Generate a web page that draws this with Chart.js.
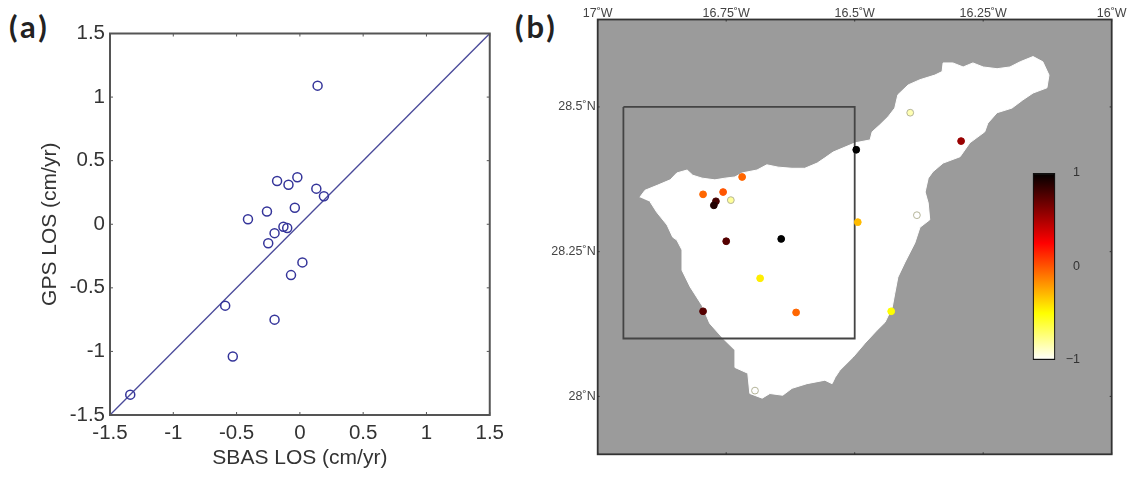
<!DOCTYPE html>
<html>
<head>
<meta charset="utf-8">
<title>SBAS vs GPS LOS</title>
<script src="https://cdn.jsdelivr.net/npm/chart.js@4/dist/chart.umd.min.js"></script>
<style>
  html, body { margin: 0; padding: 0; background: #fff; }
  body { position: relative; width: 1135px; height: 477px; overflow: hidden; }
  canvas { position: absolute; filter: blur(0.4px); }
  #chartA { left: 0; top: 0; }
  #chartB { left: 510px; top: 0; }
  #colorbar { left: 1020px; top: 160px; }
  .tag { position: absolute; top: 7px; font: bold 31px Lato, sans-serif; letter-spacing: 3px; color: #222; }
</style>
</head>
<body>
<div class="tag" style="left:9px">(a)</div>
<div class="tag" style="left:515px">(b)</div>
<canvas id="chartA" width="510" height="477"></canvas>
<canvas id="chartB" width="625" height="477"></canvas>
<canvas id="colorbar" width="60" height="215"></canvas>
<script>
// panel (a): SBAS against GPS, cm/yr
const sbasLos = [0.14, -0.18, -0.09, -0.02, 0.13, 0.19, -0.04, -0.26, -0.41, -0.13, -0.10, -0.20, -0.25, 0.02, -0.07, -0.59, -0.20, -0.53, -1.34];
const gpsLos = [1.09, 0.34, 0.31, 0.37, 0.28, 0.22, 0.13, 0.10, 0.04, -0.02, -0.03, -0.07, -0.15, -0.30, -0.40, -0.64, -0.75, -1.04, -1.34];
const oneToOne = [-1.5, 1.5];
const ticksA = [-1.5, -1, -0.5, 0, 0.5, 1, 1.5];

// panel (b): coastline, degrees
const coastLon = [-16.918, -16.908, -16.883, -16.859, -16.846, -16.826, -16.815, -16.797, -16.772, -16.752, -16.733, -16.719, -16.690, -16.671, -16.649, -16.622, -16.597, -16.573, -16.558, -16.542, -16.499, -16.470, -16.466, -16.451, -16.435, -16.422, -16.416, -16.396, -16.373, -16.344, -16.330, -16.328, -16.309, -16.289, -16.270, -16.250, -16.223, -16.198, -16.178, -16.153, -16.134, -16.122, -16.126, -16.153, -16.173, -16.194, -16.223, -16.241, -16.247, -16.276, -16.295, -16.328, -16.348, -16.357, -16.363, -16.357, -16.354, -16.373, -16.383, -16.402, -16.416, -16.422, -16.427, -16.441, -16.457, -16.480, -16.503, -16.529, -16.538, -16.544, -16.558, -16.593, -16.622, -16.640, -16.665, -16.680, -16.704, -16.708, -16.733, -16.733, -16.756, -16.782, -16.797, -16.820, -16.836, -16.836, -16.846, -16.854, -16.865, -16.885, -16.898];
const coastLat = [28.344, 28.356, 28.365, 28.374, 28.386, 28.391, 28.382, 28.377, 28.374, 28.377, 28.379, 28.386, 28.391, 28.400, 28.396, 28.394, 28.394, 28.403, 28.412, 28.422, 28.438, 28.443, 28.457, 28.469, 28.483, 28.498, 28.521, 28.538, 28.547, 28.555, 28.561, 28.576, 28.576, 28.569, 28.576, 28.569, 28.566, 28.569, 28.578, 28.587, 28.578, 28.555, 28.533, 28.524, 28.512, 28.498, 28.490, 28.472, 28.457, 28.438, 28.414, 28.403, 28.388, 28.377, 28.353, 28.334, 28.305, 28.292, 28.265, 28.232, 28.206, 28.178, 28.154, 28.128, 28.114, 28.092, 28.068, 28.045, 28.033, 28.022, 28.028, 28.022, 28.014, 28.002, 28.005, 27.997, 28.005, 28.040, 28.050, 28.080, 28.100, 28.126, 28.157, 28.189, 28.218, 28.253, 28.270, 28.275, 28.296, 28.318, 28.336];
const boxLon = [-16.95, -16.5, -16.5, -16.95, -16.95];
const boxLat = [28.5, 28.5, 28.1, 28.1, 28.5];
const stationLon = [-16.719, -16.795, -16.756, -16.741, -16.770, -16.774, -16.750, -16.643, -16.684, -16.795, -16.614, -16.694, -16.497, -16.392, -16.293, -16.379, -16.494, -16.429];
const stationLat = [28.379, 28.349, 28.353, 28.339, 28.337, 28.330, 28.268, 28.272, 28.204, 28.147, 28.145, 28.010, 28.426, 28.490, 28.441, 28.313, 28.301, 28.147];
const stationVal = [-0.05, -0.05, 0, -0.8, 0.8, 0.9, 0.75, 1, -0.45, 0.75, -0.05, -1, 1, -0.85, 0.55, -1, -0.3, -0.5];
const lonTicks = [-17, -16.75, -16.5, -16.25, -16];
const lonLabels = ['17˚W', '16.75˚W', '16.5˚W', '16.25˚W', '16˚W'];
const latTicks = [28, 28.25, 28.5];
const latLabels = ['28˚N', '28.25˚N', '28.5˚N'];

// colour bar
const barStops = [-1, -0.5, 0.25, 1];
const barColors = [[255, 255, 255], [255, 255, 0], [255, 0, 0], [0, 0, 0]];
const barTicks = [-1, 0, 1];
const barLabels = ['−1', '0', '1'];

function hotColor(v) {
    for (let i = 1; i < barStops.length; i++) {
        if (v <= barStops[i]) {
            const t = (v - barStops[i - 1]) / (barStops[i] - barStops[i - 1]);
            const c = barColors[i - 1].map((a, k) => Math.round(a + (barColors[i][k] - a) * t));
            return `rgb(${c.join(',')})`;
        }
    }
    return 'rgb(0,0,0)';
}

function zip(xs, ys) {
    return xs.map((x, i) => ({ x: x, y: ys[i] }));
}

// frame with short inward ticks, matlab style
const frame = {
    id: 'frame',
    afterDraw(chart, args, opts) {
        const { ctx, chartArea: a, scales } = chart;
        ctx.save();
        ctx.strokeStyle = opts.color;
        ctx.lineWidth = opts.width;
        ctx.strokeRect(a.left, a.top, a.right - a.left, a.bottom - a.top);
        ctx.lineWidth = 1;
        ctx.beginPath();
        scales.x.ticks.forEach(t => {
            const px = scales.x.getPixelForValue(t.value);
            ctx.moveTo(px, a.top); ctx.lineTo(px, a.top + opts.len);
            ctx.moveTo(px, a.bottom); ctx.lineTo(px, a.bottom - opts.len);
        });
        scales.y.ticks.forEach(t => {
            const py = scales.y.getPixelForValue(t.value);
            ctx.moveTo(a.left, py); ctx.lineTo(a.left + opts.len, py);
            ctx.moveTo(a.right, py); ctx.lineTo(a.right - opts.len, py);
        });
        ctx.stroke();
        ctx.restore();
    }
};

// sea colour behind the plot, island filled from the coastline dataset
const mapFill = {
    id: 'mapFill',
    beforeDatasetsDraw(chart) {
        const { ctx, chartArea: a } = chart;
        ctx.save();
        ctx.fillStyle = '#9b9b9b';
        ctx.fillRect(a.left, a.top, a.right - a.left, a.bottom - a.top);
        const pts = chart.getDatasetMeta(2).data;
        ctx.fillStyle = '#fff';
        ctx.beginPath();
        pts.forEach((p, i) => i ? ctx.lineTo(p.x, p.y) : ctx.moveTo(p.x, p.y));
        ctx.closePath();
        ctx.fill();
        ctx.restore();
    }
};

const fontA = { family: '"Liberation Sans"', size: 20.5 };
const titleA = { family: '"Liberation Sans"', size: 21 };
const inkA = '#333';

new Chart(document.getElementById('chartA'), {
    type: 'scatter',
    data: {
        datasets: [{
            data: zip(sbasLos, gpsLos),
            pointStyle: 'circle',
            pointRadius: 4.5,
            pointBorderWidth: 1.5,
            pointBorderColor: '#35359a',
            pointBackgroundColor: 'rgba(0,0,0,0)'
        }, {
            data: zip(oneToOne, oneToOne),
            showLine: true,
            pointRadius: 0,
            borderColor: '#4a4a9a',
            borderWidth: 1.3
        }]
    },
    options: {
        responsive: false,
        animation: false,
        layout: { padding: { top: 33.5, right: 19, left: 0, bottom: 0 } },
        plugins: {
            legend: { display: false },
            tooltip: { enabled: false },
            frame: { color: '#555', width: 2, len: 3 }
        },
        scales: {
            x: {
                type: 'linear', min: -1.5, max: 1.5,
                afterBuildTicks: s => { s.ticks = ticksA.map(v => ({ value: v })); },
                afterFit: s => { s.height = 62; },
                grid: { display: false, drawTicks: false },
                border: { display: false },
                ticks: { font: fontA, color: inkA, padding: 6, maxRotation: 0, autoSkip: false, callback: v => String(v) },
                title: { display: true, text: 'SBAS LOS (cm/yr)', font: titleA, color: inkA, padding: { top: 0, bottom: 6 } }
            },
            y: {
                type: 'linear', min: -1.5, max: 1.5,
                afterBuildTicks: s => { s.ticks = ticksA.map(v => ({ value: v })); },
                afterFit: s => { s.width = 110; },
                grid: { display: false, drawTicks: false },
                border: { display: false },
                ticks: { font: fontA, color: inkA, padding: 5, autoSkip: false, callback: v => String(v) },
                title: { display: true, text: 'GPS LOS (cm/yr)', font: titleA, color: inkA, padding: { top: 38, bottom: 0 } }
            }
        }
    },
    plugins: [frame]
});

const fontB = { family: '"Liberation Sans"', size: 12.5 };
const inkB = '#444';

new Chart(document.getElementById('chartB'), {
    type: 'scatter',
    data: {
        datasets: [{
            data: zip(stationLon, stationLat),
            pointRadius: 3.4,
            pointBorderWidth: 1,
            pointBackgroundColor: c => hotColor(stationVal[c.dataIndex]),
            pointBorderColor: c => stationVal[c.dataIndex] < -0.7 ? '#b5b59a' : hotColor(stationVal[c.dataIndex])
        }, {
            data: zip(boxLon, boxLat),
            showLine: true,
            pointRadius: 0,
            borderColor: '#444',
            borderWidth: 1.8
        }, {
            data: zip(coastLon, coastLat),
            showLine: true,
            pointRadius: 0,
            borderColor: '#fff',
            borderWidth: 1
        }]
    },
    options: {
        responsive: false,
        animation: false,
        layout: { padding: { top: 0, right: 23.3, left: 0, bottom: 22.7 } },
        plugins: {
            legend: { display: false },
            tooltip: { enabled: false },
            frame: { color: '#333', width: 1.8, len: 2 }
        },
        scales: {
            x: {
                type: 'linear', position: 'top', min: -17, max: -16,
                afterBuildTicks: s => { s.ticks = lonTicks.map(v => ({ value: v })); },
                afterFit: s => { s.height = 19.5; },
                grid: { display: false, drawTicks: false },
                border: { display: false },
                ticks: { font: fontB, color: inkB, padding: -2, maxRotation: 0, autoSkip: false, callback: v => lonLabels[lonTicks.indexOf(v)] }
            },
            y: {
                type: 'linear', min: 27.9, max: 28.651,
                afterBuildTicks: s => { s.ticks = latTicks.map(v => ({ value: v })); },
                afterFit: s => { s.width = 87.7; },
                grid: { display: false, drawTicks: false },
                border: { display: false },
                ticks: { font: fontB, color: inkB, padding: 2, autoSkip: false, callback: v => latLabels[latTicks.indexOf(v)] }
            }
        }
    },
    plugins: [mapFill, frame]
});

new Chart(document.getElementById('colorbar'), {
    type: 'bar',
    data: {
        labels: ['LOS'],
        datasets: [{
            data: [[barTicks[0], barTicks[2]]],
            barPercentage: 1,
            categoryPercentage: 1,
            borderColor: '#111',
            borderWidth: 1.5,
            borderSkipped: false,
            backgroundColor: c => {
                const { ctx, chartArea: a } = c.chart;
                if (!a) return '#fff';
                const g = ctx.createLinearGradient(0, a.bottom, 0, a.top);
                barStops.forEach(v => {
                    g.addColorStop((v - barStops[0]) / 2, hotColor(v));
                });
                return g;
            }
        }]
    },
    options: {
        responsive: false,
        animation: false,
        layout: { padding: { top: 13, right: 0, left: 12.7, bottom: 15 } },
        plugins: { legend: { display: false }, tooltip: { enabled: false } },
        scales: {
            x: { display: false },
            y: {
                position: 'right', min: -1, max: 1,
                afterBuildTicks: s => { s.ticks = barTicks.map(v => ({ value: v })); },
                afterFit: s => { s.width = 24.7; },
                grid: { display: false, drawTicks: false },
                border: { display: false },
                ticks: { font: fontB, color: '#333', padding: 0, crossAlign: 'far', autoSkip: false, callback: v => barLabels[barTicks.indexOf(v)] }
            }
        }
    }
});
</script>
</body>
</html>
